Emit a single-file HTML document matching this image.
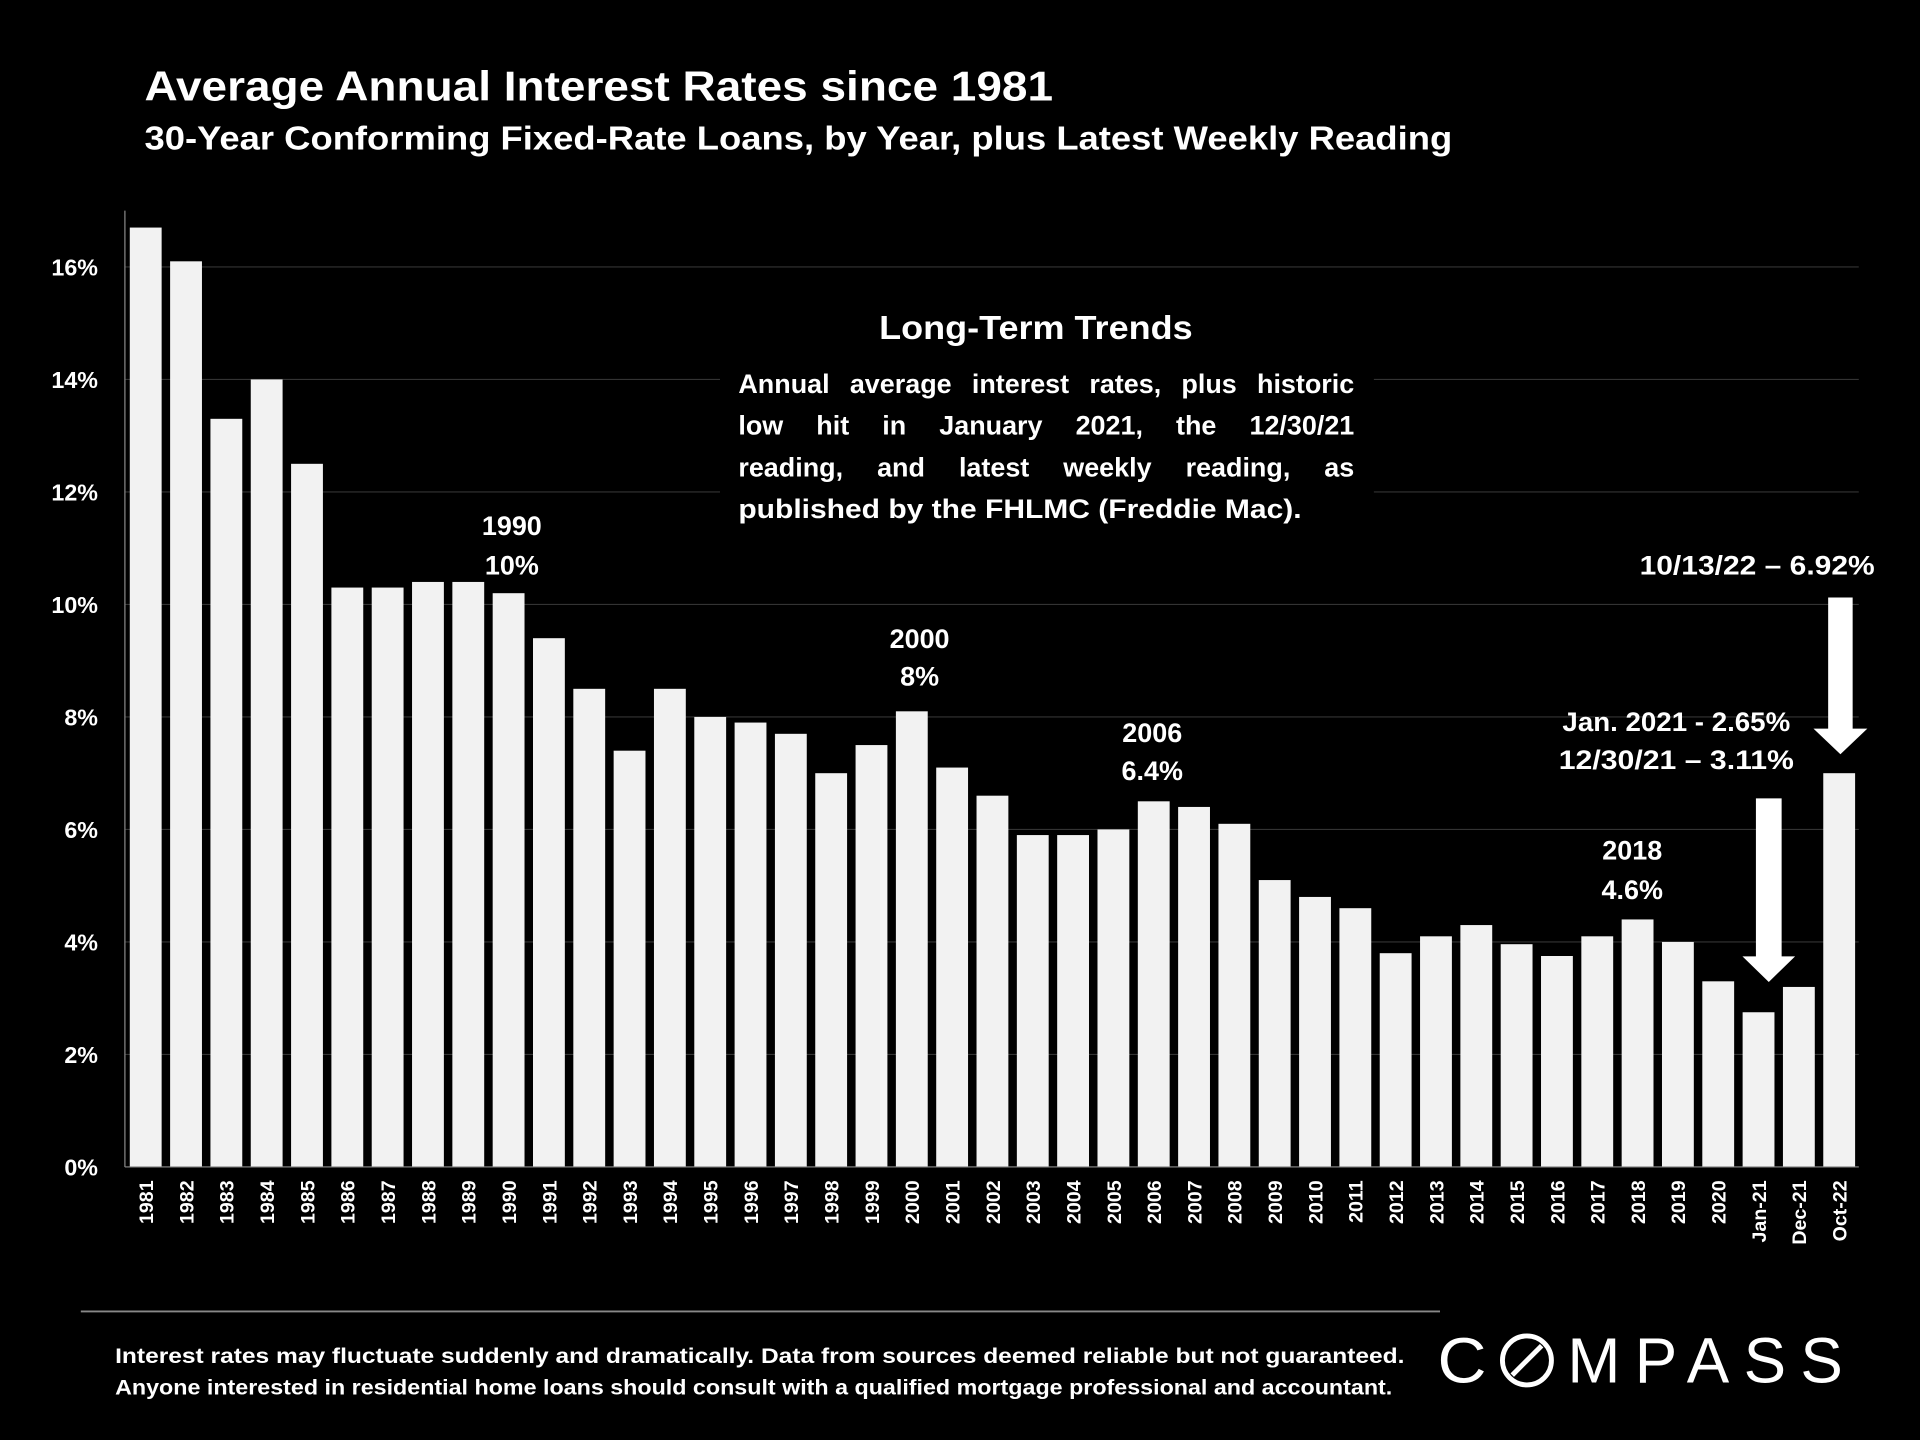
<!DOCTYPE html>
<html><head><meta charset="utf-8"><style>
html,body{margin:0;padding:0;background:#000;}
svg{display:block;font-family:"Liberation Sans",sans-serif;font-weight:bold;}
</style></head><body>
<svg id="chart" width="1920" height="1440" viewBox="0 0 1568 1176" xmlns="http://www.w3.org/2000/svg">
<rect width="1568" height="1176" fill="#000"/>
<text x="118" y="82" fill="#fff" font-size="34" textLength="742" lengthAdjust="spacingAndGlyphs">Average Annual Interest Rates since 1981</text>
<text x="118" y="122" fill="#fff" font-size="27" textLength="1068" lengthAdjust="spacingAndGlyphs">30-Year Conforming Fixed-Rate Loans, by Year, plus Latest Weekly Reading</text>
<g id="grid"></g>
<rect x="588" y="240" width="534" height="195" fill="#000"/>
<g id="bars"></g>
<g id="ylabels"></g>
<g id="xlabels"></g>
<line x1="102" y1="172" x2="102" y2="953" stroke="#888" stroke-width="1"/>
<line x1="102" y1="953" x2="1518" y2="953" stroke="#888" stroke-width="1"/>
<g fill="#fff">
<text x="846" y="277" font-size="27" text-anchor="middle" textLength="256" lengthAdjust="spacingAndGlyphs">Long-Term Trends</text>
<text class="just" x="603" y="321" font-size="22">Annual average interest rates, plus historic</text>
<text class="just" x="603" y="355" font-size="22">low hit in January 2021, the 12/30/21</text>
<text class="just" x="603" y="389" font-size="22">reading, and latest weekly reading, as</text>
<text x="603" y="423" font-size="22" textLength="460" lengthAdjust="spacingAndGlyphs">published by the FHLMC (Freddie Mac).</text>
</g>
<g fill="#fff" font-size="22" text-anchor="middle">
<text x="418" y="437">1990</text>
<text x="418" y="469">10%</text>
<text x="751" y="529">2000</text>
<text x="751" y="560">8%</text>
<text x="941" y="606">2006</text>
<text x="941" y="637">6.4%</text>
<text x="1333" y="702">2018</text>
<text x="1333" y="734">4.6%</text>
<text x="1369" y="597" textLength="186" lengthAdjust="spacingAndGlyphs">Jan. 2021 - 2.65%</text>
<text x="1369" y="628" textLength="192" lengthAdjust="spacingAndGlyphs">12/30/21 – 3.11%</text>
<text x="1435" y="469" textLength="192" lengthAdjust="spacingAndGlyphs">10/13/22 – 6.92%</text>
</g>
<polygon fill="#fff" points="1434,652 1455,652 1455,781 1466,781 1444.5,802 1423,781 1434,781"/>
<polygon fill="#fff" points="1493,488 1513,488 1513,595 1525,595 1503,616 1481,595 1493,595"/>
<line x1="66" y1="1071" x2="1176" y2="1071" stroke="#888" stroke-width="1.5"/>
<text x="94" y="1113" fill="#fff" font-size="17" textLength="1053" lengthAdjust="spacingAndGlyphs">Interest rates may fluctuate suddenly and dramatically. Data from sources deemed reliable but not guaranteed.</text>
<text x="94" y="1139" fill="#fff" font-size="17" textLength="1043" lengthAdjust="spacingAndGlyphs">Anyone interested in residential home loans should consult with a qualified mortgage professional and accountant.</text>
<g fill="none" stroke="#fff">
<text x="1174" y="1129" fill="#fff" stroke="none" font-size="52" font-weight="normal" textLength="40" lengthAdjust="spacingAndGlyphs">C</text>
<circle cx="1247" cy="1111" r="20" stroke-width="4"/>
<line x1="1235" y1="1123" x2="1259" y2="1099" stroke-width="4"/>
<text x="1280" y="1129" fill="#fff" stroke="none" font-size="52" font-weight="normal" textLength="225" lengthAdjust="spacing">MPASS</text>
</g>
<script>
var categories=["1981","1982","1983","1984","1985","1986","1987","1988","1989","1990","1991","1992","1993","1994","1995","1996","1997","1998","1999","2000","2001","2002","2003","2004","2005","2006","2007","2008","2009","2010","2011","2012","2013","2014","2015","2016","2017","2018","2019","2020","Jan-21","Dec-21","Oct-22"];
var rates=[16.7,16.1,13.3,14.0,12.5,10.3,10.3,10.4,10.4,10.2,9.4,8.5,7.4,8.5,8.0,7.9,7.7,7.0,7.5,8.1,7.1,6.6,5.9,5.9,6.0,6.5,6.4,6.1,5.1,4.8,4.6,3.8,4.1,4.3,3.96,3.75,4.1,4.4,4.0,3.3,2.75,3.2,7.0];
var yTicks=[0,2,4,6,8,10,12,14,16];
var NS="http://www.w3.org/2000/svg";
function yScale(v){return 953-v*(953-218)/16;}
function xScale(i){return 119+i*(1502-119)/42;}
var grid=document.getElementById('grid'),yl=document.getElementById('ylabels');
yTicks.forEach(function(t){
 var l=document.createElementNS(NS,'line');
 
 
 l.setAttribute('x1',102);l.setAttribute('x2',1518);l.setAttribute('y1',yScale(t));l.setAttribute('y2',yScale(t));
 l.setAttribute('stroke','#333');l.setAttribute('stroke-width','1');grid.appendChild(l);
 var tx=document.createElementNS(NS,'text');
 
 
 tx.setAttribute('x',80);tx.setAttribute('y',yScale(t)+7);tx.setAttribute('text-anchor','end');
 tx.setAttribute('fill','#fff');tx.setAttribute('font-size','19');tx.textContent=t+'%';yl.appendChild(tx);
});
var bars=document.getElementById('bars'),xl=document.getElementById('xlabels');
categories.forEach(function(c,i){
 var r=document.createElementNS(NS,'rect');
 
 
 var x=xScale(i),y=yScale(rates[i]);
 r.setAttribute('x',x-13);r.setAttribute('y',y);r.setAttribute('width',26);r.setAttribute('height',953-y);
 r.setAttribute('fill','#f2f2f2');bars.appendChild(r);
 var tx=document.createElementNS(NS,'text');
 
 
 tx.setAttribute('transform','translate('+(x+6)+',964) rotate(-90)');
 tx.setAttribute('text-anchor','end');tx.setAttribute('fill','#fff');tx.setAttribute('font-size','16');
 tx.textContent=c;xl.appendChild(tx);
});
document.querySelectorAll('text.just').forEach(function(t){
 var len=t.getComputedTextLength();
 var n=(t.textContent.match(/ /g)||[]).length;
 if(n>0&&len<503){t.setAttribute('word-spacing',((503-len)/n).toFixed(2));}
});
</script>
</svg>
</body></html>
